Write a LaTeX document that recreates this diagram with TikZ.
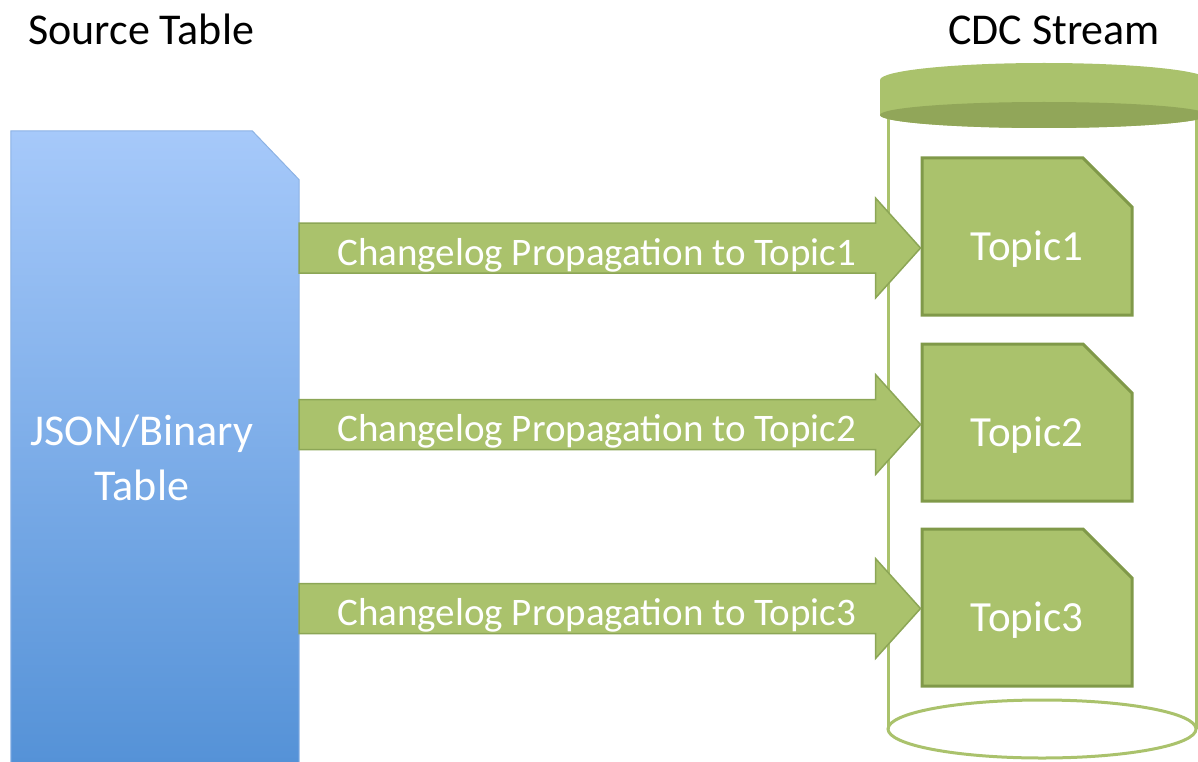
\documentclass[tikz,border=0pt]{standalone}
\usepackage{fontspec}
\setmainfont{Carlito}
\usetikzlibrary{shapes.misc, positioning, calc, backgrounds}
\definecolor{srctop}{RGB}{166,201,250}
\definecolor{srcbot}{RGB}{82,144,214}
\definecolor{srcedge}{RGB}{140,178,228}
\definecolor{leaf}{RGB}{170,194,108}
\definecolor{leafdark}{RGB}{145,166,89}
\definecolor{leafedge}{RGB}{128,153,73}
\definecolor{flowedge}{RGB}{140,166,86}
\tikzset{
  ttl/.style    = {font=\fontsize{44}{53}\selectfont, anchor=base west, inner sep=0pt},
  srcbox/.style = {rectangle, minimum width=288pt, minimum height=654pt, inner sep=0pt},
  srctxt/.style = {align=center, text=white, inner sep=0pt,
                   font=\fontsize{44}{55}\selectfont},
  topic/.style  = {chamfered rectangle, chamfered rectangle corners=north east,
                   chamfered rectangle xsep=27pt, chamfered rectangle ysep=25pt,
                   fill=leaf, draw=leafedge, line width=3pt,
                   minimum width=210pt, minimum height=157pt, inner sep=0pt,
                   text height=48pt, text depth=0pt, text=white,
                   font=\fontsize{43}{52}\selectfont},
  flow/.style   = {fill=leaf, draw=flowedge, line width=1.5pt},
  flowtxt/.style= {anchor=base west, inner sep=0pt, text=white,
                   font=\fontsize{39}{47}\selectfont},
  cyl/.style    = {draw=leaf, line width=3pt},
}

\begin{document}
\begin{tikzpicture}[x=1pt, y=-1pt]
  \useasboundingbox (0,0) rectangle (1198,762);

  % ---- titles --------------------------------------------------------------
  \node[ttl] (srcttl) at (28,45) {Source Table};
  \node[ttl] (cdcttl) at (948,45) {CDC Stream};

  % ---- source table --------------------------------------------------------
  \node[srcbox] (src) at (155,458) {};
  \begin{scope}[on background layer]
    \shade[top color=srctop, bottom color=srcbot, draw=srcedge, line width=1pt]
      (src.south west) |- ([xshift=-47pt]src.north east)
      -- ([yshift=-49pt]src.north east) -- (src.south east) -- cycle;
  \end{scope}
  \node[srctxt] (srclbl) at ([xshift=-13pt]src.center) {JSON/Binary\\Table};

  % ---- CDC stream cylinder -------------------------------------------------
  \draw[cyl] (888,115) -- (888,729);
  \draw[cyl] (1196,115) -- (1196,729);
  \draw[cyl] (1042,729) ellipse[x radius=154, y radius=29];
  \fill[leaf] (880,80) arc[start angle=180, end angle=360, x radius=164, y radius=17]
       -- (1208,115) arc[start angle=0, end angle=180, x radius=164, y radius=13] -- cycle;
  \fill[leafdark] (1044,115) ellipse[x radius=164, y radius=13];

  % ---- topics --------------------------------------------------------------
  \node[topic] (t1) at (1027,236.5) {Topic1};
  \node[topic, below=26pt of t1] (t2) {Topic2};
  \node[topic, below=25pt of t2] (t3) {Topic3};

  % ---- changelog arrows ----------------------------------------------------
  \foreach \i/\dy in {1/-11.5, 2/-2, 3/-1} {
     \coordinate (tip\i) at ([yshift=\dy pt]t\i.west);
     \coordinate (tail\i) at (src.east |- tip\i);
     \draw[flow] ($(tail\i)+(0,-25)$) -- ($(tip\i)+(-45,-25)$) -- ($(tip\i)+(-45,-50)$)
        -- (tip\i) -- ($(tip\i)+(-45,50)$) -- ($(tip\i)+(-45,25)$)
        -- ($(tail\i)+(0,25)$) -- cycle;
     \node[flowtxt] (f\i) at ($(tail\i)+(38,17)$) {Changelog Propagation to Topic\i};
  }
\end{tikzpicture}
\end{document}
